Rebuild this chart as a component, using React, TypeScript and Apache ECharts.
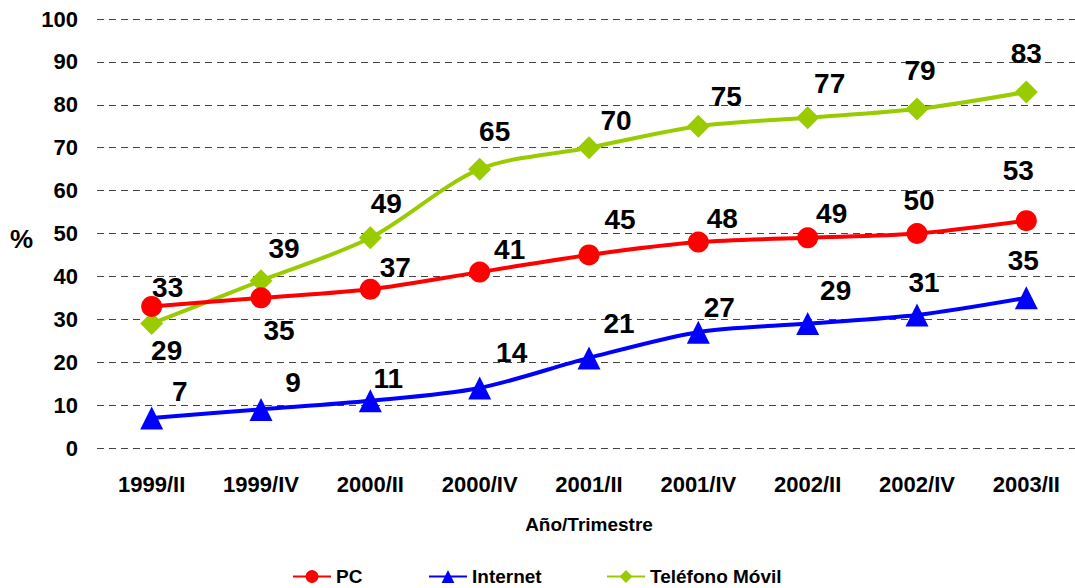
import React, { useEffect, useRef } from "react";
import * as echarts from "echarts";

const categories = ["1999/II", "1999/IV", "2000/II", "2000/IV", "2001/II", "2001/IV", "2002/II", "2002/IV", "2003/II"];
const pcValues = [33, 35, 37, 41, 45, 48, 49, 50, 53];
const internetValues = [7, 9, 11, 14, 21, 27, 29, 31, 35];
const movilValues = [29, 39, 49, 65, 70, 75, 77, 79, 83];
const yTicks = [0, 10, 20, 30, 40, 50, 60, 70, 80, 90, 100];

// label offsets (style) relative to each point
const pcLabelOffsets = [[16, -19], [18, 33], [25, -22], [30, -23], [31, -35], [24, -24], [24, -24], [2, -33], [-8, -50]];
const internetLabelOffsets = [[28, -26], [32, -27], [18, -22], [32, -35], [30, -34], [21, -25], [28, -33], [7, -33], [-3, -37]];
const movilLabelOffsets = [[15, 27], [23, -32], [16, -34], [15, -38], [27, -27], [28, -30], [22, -34], [3, -39], [0, -38]];

const FONT = "Liberation Sans, Arial, sans-serif";

function buildData(values: number[], offs: number[][]) {
  return values.map((v, i) => ({ value: v, label: { offset: offs[i] } }));
}

export default function App() {
  const ref = useRef<HTMLDivElement>(null);
  useEffect(() => {
    if (!ref.current) return;
    const chart = echarts.init(ref.current, undefined, { renderer: "svg" });
    const labelBase = {
      show: true,
      position: "inside" as const,
      color: "#000",
      fontSize: 28,
      fontWeight: "bold" as const,
      fontFamily: FONT,
    };
    const legendBase = {
      top: 567,
      padding: 0,
      itemWidth: 38,
      itemHeight: 16,
      itemGap: 0,
      textStyle: { color: "#000", fontSize: 19, fontWeight: "bold" as const, fontFamily: FONT },
      selectedMode: false as const,
    };
    chart.setOption({
      animation: false,
      backgroundColor: "#fff",
      grid: { left: 97, top: 19, width: 984, height: 429, containLabel: false },
      legend: [
        { ...legendBase, left: 292, data: ["PC"] },
        { ...legendBase, left: 428, data: ["Internet"] },
        { ...legendBase, left: 606, data: ["Teléfono Móvil"] },
      ],
      xAxis: {
        type: "category",
        data: categories,
        boundaryGap: true,
        axisLine: { show: false },
        axisTick: { show: false },
        axisLabel: { color: "#000", fontSize: 22, fontWeight: "bold", fontFamily: FONT, margin: 25 },
      },
      yAxis: {
        type: "value",
        min: yTicks[0],
        max: yTicks[yTicks.length - 1],
        interval: 10,
        axisLine: { show: false },
        axisTick: { show: false },
        axisLabel: { color: "#000", fontSize: 22, fontWeight: "bold", fontFamily: FONT, margin: 19 },
        splitLine: { show: true, lineStyle: { color: "#444", width: 1, type: [7, 5] } },
      },
      graphic: [
        {
          type: "text",
          left: 10,
          top: 226,
          style: { text: "%", fill: "#000", font: `bold 26px ${FONT}` },
        },
        {
          type: "text",
          x: 589,
          y: 524,
          style: { text: "Año/Trimestre", fill: "#000", font: `bold 19px ${FONT}`, align: "center", verticalAlign: "middle" },
        },
      ],
      series: [
        {
          name: "PC",
          type: "line",
          data: buildData(pcValues, pcLabelOffsets),
          smooth: 0.3,
          symbol: "circle",
          symbolSize: 21,
          itemStyle: { color: "#FF0000" },
          lineStyle: { color: "#FF0000", width: 4 },
          label: labelBase,
          z: 3,
        },
        {
          name: "Internet",
          type: "line",
          data: buildData(internetValues, internetLabelOffsets),
          smooth: 0.3,
          symbol: "triangle",
          symbolSize: 23,
          itemStyle: { color: "#0000FF" },
          lineStyle: { color: "#0000FF", width: 4 },
          label: labelBase,
          z: 3,
        },
        {
          name: "Teléfono Móvil",
          type: "line",
          data: buildData(movilValues, movilLabelOffsets),
          smooth: 0.3,
          symbol: "diamond",
          symbolSize: 23,
          itemStyle: { color: "#99CC00" },
          lineStyle: { color: "#99CC00", width: 4 },
          label: labelBase,
          z: 2,
        },
      ],
    });
    return () => chart.dispose();
  }, []);
  return (
    <div style={{ width: 1075, height: 588, position: "absolute", left: 0, top: 0, overflow: "hidden" }}>
      <div ref={ref} style={{ width: 1090, height: 588 }} />
    </div>
  );
}
